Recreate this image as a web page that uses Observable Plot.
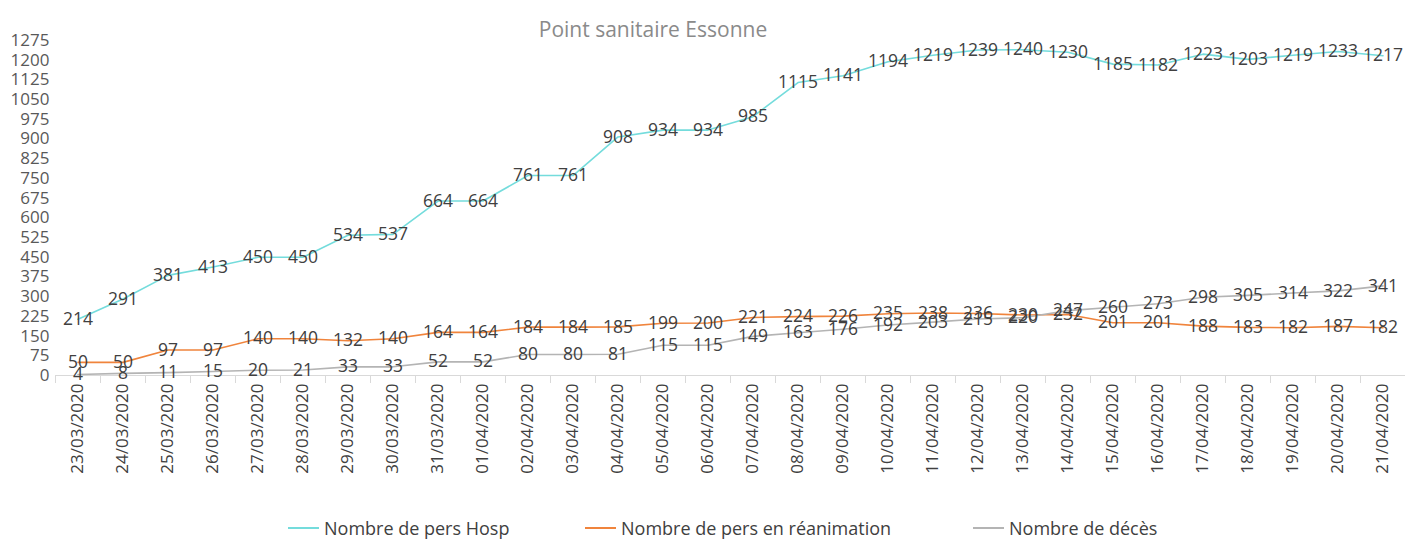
<!DOCTYPE html>
<html>
<head>
<meta charset="utf-8">
<script src="https://cdn.jsdelivr.net/npm/d3@7"></script>
<script src="https://cdn.jsdelivr.net/npm/@observablehq/plot@0.6"></script>
<style>
  html, body { margin: 0; padding: 0; background: #fff; }
  body { width: 1405px; height: 552px; position: relative; overflow: hidden; font-family: "Open Sans", sans-serif; }
  #title { position: absolute; top: 15px; left: 0; width: 1306px; text-align: center; font-size: 21px; color: #8a8a8a; }
  #chart { position: absolute; top: 0; left: 0; }
  #legend { position: absolute; top: 515px; left: 0; width: 1405px; height: 26px; font-size: 18px; color: #404040; }
  .item { position: absolute; top: 0; display: flex; align-items: center; height: 26px; white-space: nowrap; }
  .sw { width: 31px; height: 2px; margin-right: 5px; }
</style>
</head>
<body>
<div id="chart"></div>
<div id="title">Point sanitaire Essonne</div>
<div id="legend"></div>
<script>
const dates = ["23/03/2020","24/03/2020","25/03/2020","26/03/2020","27/03/2020","28/03/2020","29/03/2020","30/03/2020","31/03/2020","01/04/2020","02/04/2020","03/04/2020","04/04/2020","05/04/2020","06/04/2020","07/04/2020","08/04/2020","09/04/2020","10/04/2020","11/04/2020","12/04/2020","13/04/2020","14/04/2020","15/04/2020","16/04/2020","17/04/2020","18/04/2020","19/04/2020","20/04/2020","21/04/2020"];
const hosp = [214,291,381,413,450,450,534,537,664,664,761,761,908,934,934,985,1115,1141,1194,1219,1239,1240,1230,1185,1182,1223,1203,1219,1233,1217];
const rea = [50,50,97,97,140,140,132,140,164,164,184,184,185,199,200,221,224,226,235,238,236,230,232,201,201,188,183,182,187,182];
const deces = [4,8,11,15,20,21,33,33,52,52,80,80,81,115,115,149,163,176,192,203,215,220,247,260,273,298,305,314,322,341];
const seriesNames = ["Nombre de pers Hosp", "Nombre de pers en réanimation", "Nombre de décès"];
const seriesColors = ["#74dcdc", "#f0843c", "#b4b4b4"];
const yTicks = d3.range(0, 1276, 75);

const allSeries = [hosp, rea, deces];
const rows = [];
allSeries.forEach((vals, si) => vals.forEach((v, i) => rows.push({date: dates[i], value: v, series: seriesNames[si]})));

const W = 1405, ML = 55, MR = 0;
const step = (W - ML - MR) / dates.length;

const marks = [
  Plot.ruleY([0], {stroke: "#d9d9d9", strokeWidth: 1}),
  Plot.axisX({ticks: dates, tickSize: 8, dx: -step / 2, text: null, stroke: "#d9d9d9", label: null}),
  Plot.axisX({ticks: dates, tickSize: 0, tickPadding: 8, tickRotate: -90, fontSize: 17, fill: "#404040", label: null}),
  Plot.axisY({ticks: yTicks, tickFormat: d => String(d), tickSize: 0, tickPadding: 6, fontSize: 17, fill: "#595959", label: null})
];
seriesNames.forEach((name, si) => {
  const data = rows.filter(r => r.series === name);
  marks.push(Plot.line(data, {x: "date", y: "value", stroke: seriesColors[si], strokeWidth: 1.6}));
});
seriesNames.forEach((name, si) => {
  const data = rows.filter(r => r.series === name);
  marks.push(Plot.text(data, {x: "date", y: "value", text: d => String(d.value), fill: "#404040", fontSize: 17.5, textAnchor: "middle", lineAnchor: "middle"}));
});

const plot = Plot.plot({
  width: W,
  height: 500,
  marginLeft: ML,
  marginRight: MR,
  marginTop: 40,
  marginBottom: 125,
  style: {fontFamily: "Open Sans, sans-serif", background: "transparent", overflow: "visible"},
  x: {type: "band", domain: dates, padding: 0, axis: null, label: null},
  y: {domain: [0, 1275], axis: null, label: null},
  marks
});
document.getElementById("chart").appendChild(plot);

const legend = document.getElementById("legend");
const lefts = [288, 585, 973];
seriesNames.forEach((name, si) => {
  const it = document.createElement("div");
  it.className = "item";
  it.style.left = lefts[si] + "px";
  const sw = document.createElement("span");
  sw.className = "sw";
  sw.style.background = seriesColors[si];
  const tx = document.createElement("span");
  tx.textContent = name;
  it.appendChild(sw);
  it.appendChild(tx);
  legend.appendChild(it);
});
</script>
</body>
</html>
